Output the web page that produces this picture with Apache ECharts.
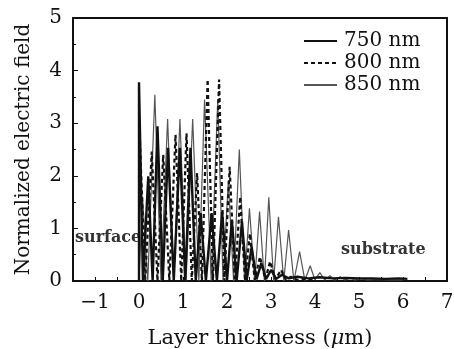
<!DOCTYPE html>
<html>
<head>
<meta charset="utf-8">
<script src="https://cdn.jsdelivr.net/npm/echarts@6/dist/echarts.min.js"></script>
<style>
  html, body { margin: 0; padding: 0; background: #fff; }
  #chart { width: 454px; height: 349px; }
</style>
</head>
<body>
<div id="chart"></div>
<script>
// Normalized electric field vs. layer thickness, peaks and troughs per wavelength
const x750 = [0, 0, 0.09, 0.21, 0.31, 0.42, 0.54, 0.66, 0.79, 0.93, 1.05, 1.17, 1.29, 1.40, 1.52, 1.65, 1.77, 1.89, 2.00, 2.11, 2.22, 2.34, 2.45, 2.56, 2.67, 2.78, 2.89, 3.00, 3.12, 3.25, 3.40, 3.60, 3.85, 4.10, 4.40, 4.70, 5.00, 5.30, 5.60, 5.90, 6.10];
const y750 = [0, 3.78, 0, 1.99, 0, 2.94, 0, 2.53, 0, 2.53, 0, 2.53, 0, 1.29, 0, 1.29, 0, 1.32, 0, 1.16, 0, 1.13, 0.02, 0.65, 0.03, 0.34, 0.04, 0.21, 0.04, 0.12, 0.05, 0.08, 0.05, 0.07, 0.05, 0.06, 0.05, 0.05, 0.04, 0.05, 0.04];

const x800 = [0.01, 0.14, 0.29, 0.42, 0.55, 0.69, 0.83, 0.96, 1.08, 1.20, 1.32, 1.43, 1.56, 1.68, 1.82, 1.94, 2.06, 2.18, 2.30, 2.41, 2.52, 2.63, 2.75, 2.87, 2.98, 3.10, 3.23, 3.34, 3.45, 3.60, 3.80, 4.00];
const y800 = [2.92, 0, 2.46, 0, 2.40, 0, 2.78, 0, 2.81, 0, 2.05, 0, 3.83, 0, 3.83, 0, 2.17, 0, 1.60, 0, 0.90, 0.02, 0.46, 0.03, 0.37, 0.03, 0.21, 0.02, 0.08, 0.02, 0.04, 0.02];

const x850 = [0, 0.08, 0.20, 0.36, 0.50, 0.65, 0.79, 0.93, 1.07, 1.22, 1.36, 1.49, 1.64, 1.79, 1.91, 2.03, 2.15, 2.28, 2.40, 2.51, 2.63, 2.74, 2.85, 2.95, 3.06, 3.17, 3.29, 3.40, 3.52, 3.65, 3.77, 3.89, 4.00, 4.11, 4.22, 4.34, 4.45, 4.57, 4.68, 4.80, 4.91, 5.03, 5.20, 5.40, 5.70, 6.00];
const y850 = [0, 1.60, 0, 3.54, 0, 3.08, 0, 3.08, 0, 3.08, 0, 3.45, 0, 3.45, 0, 1.90, 0, 2.50, 0, 1.38, 0, 1.32, 0, 1.59, 0, 1.22, 0, 0.97, 0, 0.56, 0.01, 0.29, 0.02, 0.16, 0.02, 0.10, 0.02, 0.08, 0.02, 0.05, 0.02, 0.04, 0.02, 0.03, 0.02, 0.02];

const seriesNames = ['750 nm', '800 nm', '850 nm'];
const xTicks = [-1, 0, 1, 2, 3, 4, 5, 6, 7];
const yTicks = [0, 1, 2, 3, 4, 5];

const pairs = (xs, ys) => xs.map((x, i) => [x, ys[i]]);

const FONT = 'DejaVu Serif';
const INK = '#111';

const chart = echarts.init(document.getElementById('chart'), null, { renderer: 'canvas' });

chart.setOption({
  animation: false,
  backgroundColor: '#fff',
  textStyle: { fontFamily: FONT, color: INK },
  grid: {
    left: 73, right: 7, top: 18, bottom: 68,
    outerBoundsMode: 'none', containLabel: false,
    show: true, borderColor: '#111', borderWidth: 2, backgroundColor: 'transparent'
  },
  legend: {
    orient: 'vertical',
    left: 298, top: 26,
    itemWidth: 33, itemHeight: 14, itemGap: 2,
    itemStyle: { opacity: 0 },
    data: seriesNames,
    textStyle: { fontFamily: FONT, fontSize: 20, color: INK, lineHeight: 20, padding: [0, 0, 0, 2] }
  },
  xAxis: {
    type: 'value',
    min: -1.5, max: 7, interval: 0.5,
    name: 'Layer thickness ({i|μ}m)',
    nameLocation: 'middle', nameGap: 47,
    nameTextStyle: {
      fontFamily: FONT, fontSize: 21, color: INK,
      rich: { i: { fontFamily: FONT, fontSize: 21, fontStyle: 'italic', color: INK } }
    },
    axisLine: { show: true, onZero: false, lineStyle: { color: '#111', width: 2 } },
    axisTick: { show: true, inside: true, length: 4, lineStyle: { color: '#111', width: 1 } },
    axisLabel: {
      fontFamily: FONT, fontSize: 20, color: INK, margin: 12,
      formatter: v => (xTicks.indexOf(v) >= 0 ? (v < 0 ? '\u2212' + Math.abs(v) : String(v)) : '')
    },
    splitLine: { show: false }
  },
  yAxis: {
    type: 'value',
    min: 0, max: 5, interval: 1,
    name: 'Normalized electric field',
    nameLocation: 'middle', nameGap: 39,
    nameTextStyle: { fontFamily: FONT, fontSize: 20, color: INK },
    axisLine: { show: true, onZero: false, lineStyle: { color: '#111', width: 2 } },
    axisTick: { show: true, inside: true, length: 5, lineStyle: { color: '#111', width: 1 } },
    minorTick: { show: true, splitNumber: 2, length: 3, lineStyle: { color: '#111', width: 1 } },
    axisLabel: {
      fontFamily: FONT, fontSize: 20, color: INK, margin: 11,
      formatter: v => (yTicks.indexOf(v) >= 0 ? String(v) : '')
    },
    splitLine: { show: false }
  },
  series: [
    {
      name: seriesNames[0], type: 'line', symbol: 'none', z: 4,
      data: pairs(x750, y750),
      lineStyle: { color: '#111', width: 2.4 },
      itemStyle: { color: '#111' }
    },
    {
      name: seriesNames[1], type: 'line', symbol: 'none', z: 3,
      data: pairs(x800, y800),
      lineStyle: { color: '#111', width: 2.2, type: [4, 3] },
      itemStyle: { color: '#111' }
    },
    {
      name: seriesNames[2], type: 'line', symbol: 'none', z: 2,
      data: pairs(x850, y850),
      lineStyle: { color: '#555', width: 1.2 },
      itemStyle: { color: '#555' }
    }
  ],
  graphic: [
    {
      type: 'text', left: 75, top: 230,
      style: { text: 'surface', font: 'bold 16px "DejaVu Serif"', fill: '#333' }
    },
    {
      type: 'text', left: 341, top: 242,
      style: { text: 'substrate', font: 'bold 16px "DejaVu Serif"', fill: '#333' }
    }
  ]
});
</script>
</body>
</html>
